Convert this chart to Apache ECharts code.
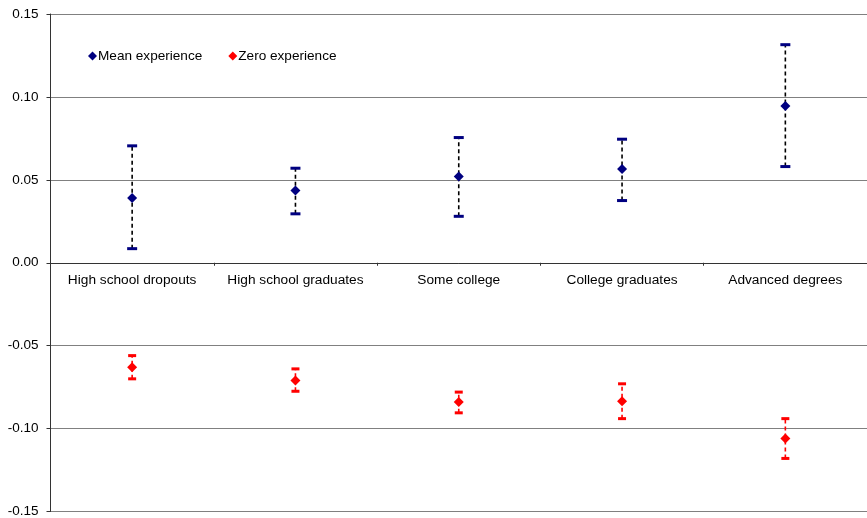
<!DOCTYPE html>
<html>
<head>
<meta charset="utf-8">
<script src="https://cdn.jsdelivr.net/npm/echarts@6/dist/echarts.min.js"></script>
<style>
  html, body { margin: 0; padding: 0; background: #fff; }
  #chart { width: 867px; height: 518px; }
</style>
</head>
<body>
<div id="chart"></div>
<script>
// Education groups along the horizontal axis
const categories = ['High school dropouts', 'High school graduates', 'Some college', 'College graduates', 'Advanced degrees'];

// Point estimates and confidence bounds at mean experience
const meanEst = [0.039, 0.0435, 0.052, 0.0565, 0.0945];
const meanHi  = [0.0705, 0.057, 0.0755, 0.0745, 0.1315];
const meanLo  = [0.0085, 0.0295, 0.028, 0.0375, 0.058];

// Point estimates and confidence bounds at zero experience
const zeroEst = [-0.063, -0.071, -0.084, -0.0835, -0.106];
const zeroHi  = [-0.056, -0.064, -0.078, -0.073, -0.094];
const zeroLo  = [-0.070, -0.0775, -0.0905, -0.094, -0.118];

// Value axis ticks
const yTicks = [-0.15, -0.10, -0.05, 0.00, 0.05, 0.10, 0.15];

const FONT = '"Liberation Sans", Arial, sans-serif';

const GRID_TOP = 14;
const GRID_BOTTOM = 6.5;
const PLOT_H = 518 - GRID_TOP - GRID_BOTTOM;
// the category axis sits on the zero line of the value range
const ZERO_OFFSET = -PLOT_H * (0 - yTicks[0]) / (yTicks[yTicks.length - 1] - yTicks[0]);

function errorBar(lineColor, capColor, capW) {
  return function (params, api) {
    const i = api.value(0);
    const lo = api.coord([i, api.value(1)]);
    const hi = api.coord([i, api.value(2)]);
    return {
      type: 'group',
      children: [
        { type: 'line', shape: { x1: lo[0], y1: lo[1], x2: hi[0], y2: hi[1] },
          style: { stroke: lineColor, lineWidth: 1.6, lineDash: [4, 3] } },
        { type: 'rect', shape: { x: hi[0] - capW / 2, y: hi[1] - 1.5, width: capW, height: 3 },
          style: { fill: capColor } },
        { type: 'rect', shape: { x: lo[0] - capW / 2, y: lo[1] - 1.5, width: capW, height: 3 },
          style: { fill: capColor } }
      ]
    };
  };
}

const chart = echarts.init(document.getElementById('chart'), null, { renderer: 'canvas' });

chart.setOption({
  animation: false,
  backgroundColor: '#fff',
  textStyle: { fontFamily: FONT },
  grid: { left: 50.5, right: 0, top: GRID_TOP, bottom: GRID_BOTTOM,
          containLabel: false, outerBoundsMode: 'none' },
  legend: {
    left: 83, top: 44,
    icon: 'diamond',
    itemWidth: 9, itemHeight: 9,
    itemGap: 26,
    textStyle: { fontFamily: FONT, fontSize: 13.6, color: '#000', padding: [0, 0, 0, -4] },
    data: ['Mean experience', 'Zero experience']
  },
  xAxis: {
    type: 'category',
    data: categories,
    boundaryGap: true,
    position: 'bottom',
    offset: ZERO_OFFSET,
    axisLine: { onZero: false, lineStyle: { color: '#333', width: 1 } },
    axisTick: { show: true, length: 3, alignWithLabel: false, lineStyle: { color: '#333' } },
    axisLabel: { margin: 10, fontFamily: FONT, fontSize: 13.7, color: '#000', interval: 0 },
    splitLine: { show: false }
  },
  yAxis: {
    type: 'value',
    min: yTicks[0], max: yTicks[yTicks.length - 1], interval: 0.05,
    axisLine: { show: true, lineStyle: { color: '#333', width: 1 } },
    axisTick: { show: true, length: 4, lineStyle: { color: '#333' } },
    axisLabel: { margin: 12, fontFamily: FONT, fontSize: 13.5, color: '#000',
                 formatter: v => v.toFixed(2) },
    splitLine: { show: true, lineStyle: { color: '#000', type: [1, 1], width: 1 } }
  },
  series: [
    {
      name: 'Mean bounds', type: 'custom', z: 2,
      renderItem: errorBar('#000', '#000080', 10),
      encode: { x: 0, y: [1, 2] },
      data: categories.map((c, i) => [i, meanLo[i], meanHi[i]])
    },
    {
      name: 'Zero bounds', type: 'custom', z: 2,
      renderItem: errorBar('#ff0000', '#ff0000', 8),
      encode: { x: 0, y: [1, 2] },
      data: categories.map((c, i) => [i, zeroLo[i], zeroHi[i]])
    },
    {
      name: 'Mean experience', type: 'scatter', z: 3,
      symbol: 'diamond', symbolSize: 10,
      itemStyle: { color: '#000080', opacity: 1 },
      data: meanEst
    },
    {
      name: 'Zero experience', type: 'scatter', z: 3,
      symbol: 'diamond', symbolSize: 10,
      itemStyle: { color: '#ff0000', opacity: 1 },
      data: zeroEst
    }
  ]
});
</script>
</body>
</html>
